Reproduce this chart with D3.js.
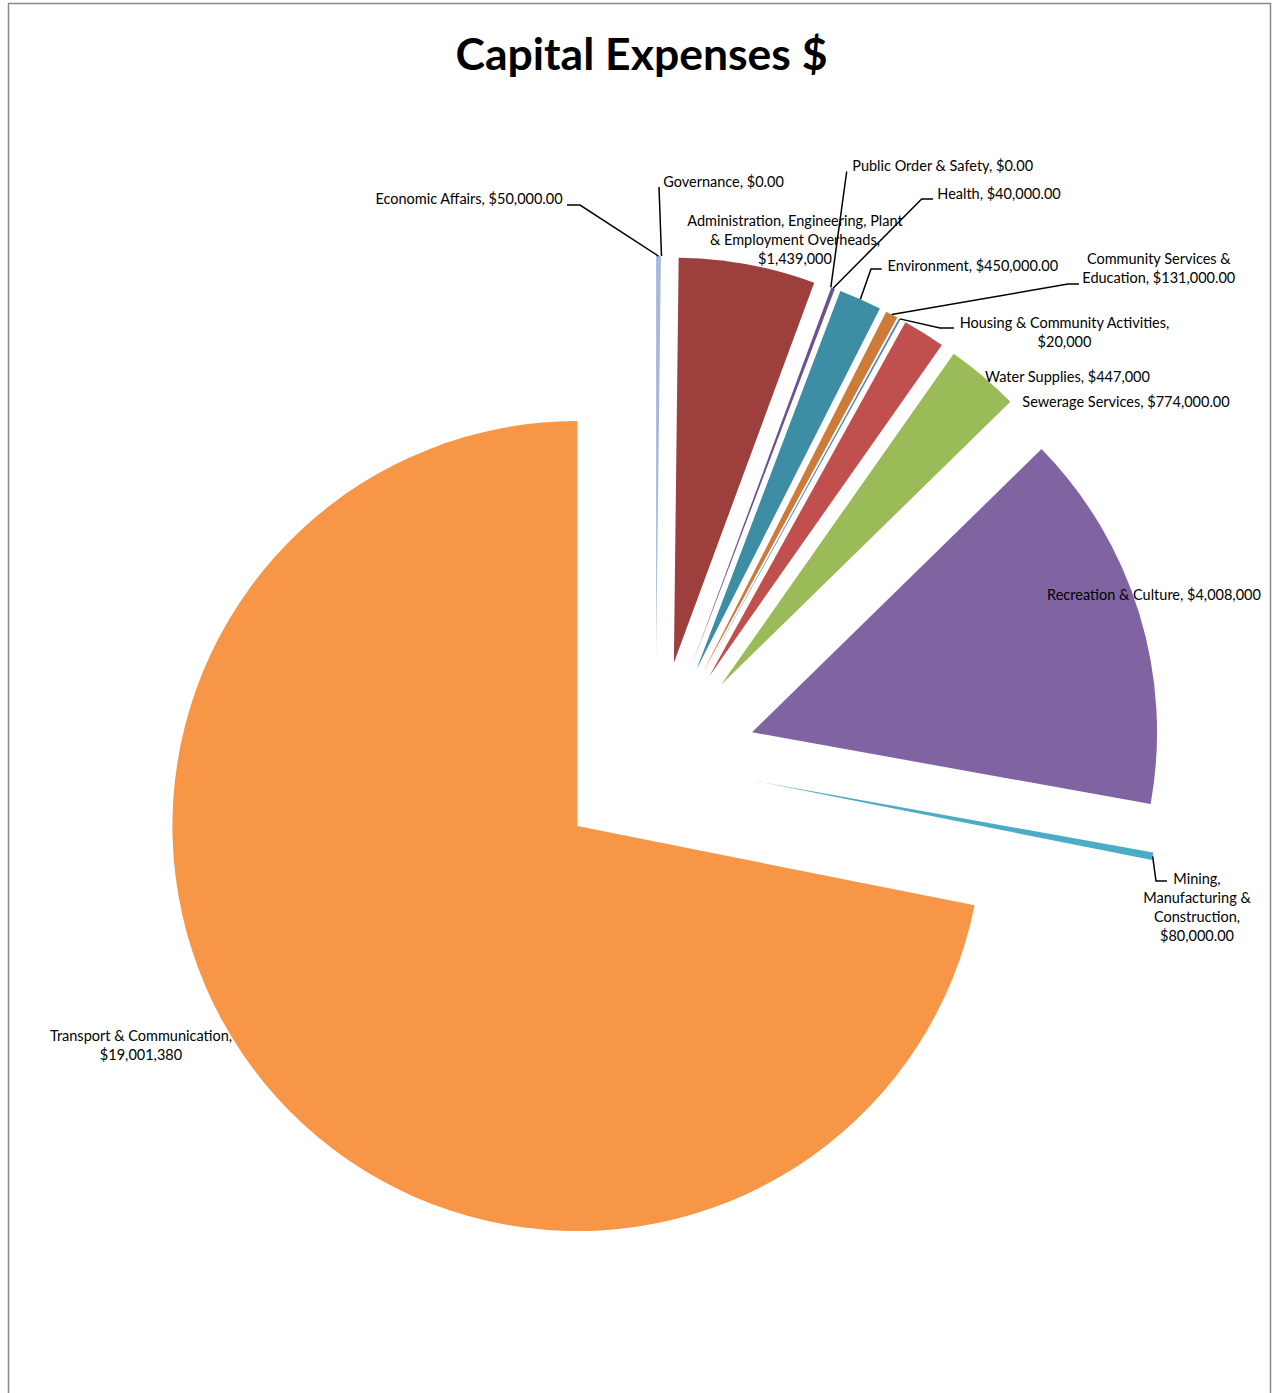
<!DOCTYPE html>
<html>
<head>
<meta charset="utf-8">
<script src="https://cdn.jsdelivr.net/npm/d3@7"></script>
<style>
  body { margin: 0; background: #fff; }
  svg text { font-family: Lato, "Open Sans", sans-serif; fill: #000; }
</style>
</head>
<body>
<div id="grafico"></div>
<script>
/*************** dados ***************/
var categorias = ['Economic Affairs', 'Governance',
  'Administration, Engineering, Plant & Employment Overheads', 'Public Order & Safety',
  'Health', 'Environment', 'Community Services & Education', 'Housing & Community Activities',
  'Water Supplies', 'Sewerage Services', 'Recreation & Culture',
  'Mining, Manufacturing & Construction', 'Transport & Communication'];
var valores = [50000, 0, 1439000, 0, 40000, 450000, 131000, 20000, 447000, 774000, 4008000, 80000, 19001380];
var rotulos = ['$50,000.00', '$0.00', '$1,439,000', '$0.00', '$40,000.00', '$450,000.00',
  '$131,000.00', '$20,000', '$447,000', '$774,000.00', '$4,008,000', '$80,000.00', '$19,001,380'];
var cores = ['#a6b9db', '#3a5f8c', '#9d3f3d', '#7c9a44', '#6a5290', '#3d8da4',
  '#cd7b38', '#4f81bd', '#c0504d', '#9bbb59', '#8064a2', '#4bacc6', '#f79646'];

/*************** layout ***************/
var largura = 1277, altura = 1393;
var centro = [655.5, 762];       // centro do pie antes de explodir
var raio = 405;
var explode = 101;               // 25% do raio

// posição dos rótulos (centro x, baseline da 1a linha), palavras por linha e cotovelos das linhas guia
var rotuloPos = [
  { x: 469,    y: 204,   linhas: null,         guia: [[580, 205], [567, 205]] },
  { x: 723.5,  y: 187,   linhas: null,         guia: [[659, 187]] },
  { x: 795,    y: 226,   linhas: [3, 3, 1],    guia: null },
  { x: 942.7,  y: 171,   linhas: null,         guia: [[846.7, 171.5]] },
  { x: 999,    y: 199,   linhas: null,         guia: [[921.7, 199], [933, 199]] },
  { x: 972.8,  y: 270.7, linhas: null,         guia: [[871, 269], [881.7, 269]] },
  { x: 1158.8, y: 264.3, linhas: [3, 2],       guia: [[1068, 284], [1079, 284]] },
  { x: 1064.5, y: 328.3, linhas: [4, 1],       guia: [[940, 328], [954, 328]] },
  { x: 1067.5, y: 381.7, linhas: null,         guia: null },
  { x: 1126,   y: 406.7, linhas: null,         guia: null },
  { x: 1154,   y: 600,   linhas: null,         guia: null },
  { x: 1197,   y: 884,   linhas: [1, 2, 1, 1], guia: [[1156, 881], [1167, 881]] },
  { x: 141,    y: 1041,  linhas: [3, 1],       guia: null }
];
var entreLinhas = 19;

var svg = d3.select('#grafico').append('svg')
  .attr('width', largura)
  .attr('height', altura);

// moldura do gráfico (sem borda inferior, sai da página)
svg.append('path')
  .attr('d', 'M8.5,' + altura + 'V3.5H1270.5V' + altura)
  .attr('fill', 'none')
  .attr('stroke', '#8a8a8a')
  .attr('stroke-width', 1.5);

// título
svg.append('text')
  .text('Capital Expenses $')
  .attr('x', 641.5)
  .attr('y', 70)
  .attr('text-anchor', 'middle')
  .style('font-size', '44.5px')
  .style('font-weight', 'bold');

var pie = d3.pie().sort(null).value(function (d) { return d; });
var fatias = pie(valores);

var arco = d3.arc().innerRadius(0).outerRadius(raio);
var arcoExplode = d3.arc().innerRadius(explode).outerRadius(explode);
var arcoBorda = d3.arc().innerRadius(raio + explode).outerRadius(raio + explode);

var gPie = svg.append('g')
  .attr('transform', 'translate(' + centro[0] + ',' + centro[1] + ')');

// fatias explodidas
gPie.selectAll('path.fatia')
  .data(fatias)
  .enter()
  .append('path')
  .attr('class', 'fatia')
  .attr('d', function (d) { return d.value > 0 ? arco(d) : null; })
  .attr('fill', function (d, i) { return cores[i]; })
  .attr('transform', function (d) {
    var c = arcoExplode.centroid(d);
    return 'translate(' + c[0] + ',' + c[1] + ')';
  });

// linhas guia
svg.append('g').selectAll('polyline')
  .data(fatias.filter(function (d, i) { return rotuloPos[i].guia; }))
  .enter()
  .append('polyline')
  .attr('fill', 'none')
  .attr('stroke', '#000')
  .attr('stroke-width', 1.5)
  .attr('points', function (d) {
    var p = arcoBorda.centroid(d);
    var pts = [[centro[0] + p[0], centro[1] + p[1]]].concat(rotuloPos[d.index].guia);
    return pts.map(function (q) { return q.join(','); }).join(' ');
  });

// rótulos
var gRotulos = svg.append('g')
  .style('font-size', '14.5px')
  .attr('text-anchor', 'middle');

categorias.forEach(function (nome, i) {
  var pos = rotuloPos[i];
  var palavras = (nome + ', ' + rotulos[i]).split(' ');
  var linhas = [];
  if (pos.linhas) {
    var k = 0;
    pos.linhas.forEach(function (n) {
      linhas.push(palavras.slice(k, k + n).join(' '));
      k += n;
    });
  } else {
    linhas.push(palavras.join(' '));
  }
  var t = gRotulos.append('text').attr('x', pos.x).attr('y', pos.y);
  linhas.forEach(function (l, j) {
    t.append('tspan')
      .attr('x', pos.x)
      .attr('dy', j === 0 ? 0 : entreLinhas)
      .text(l);
  });
});
</script>
</body>
</html>
